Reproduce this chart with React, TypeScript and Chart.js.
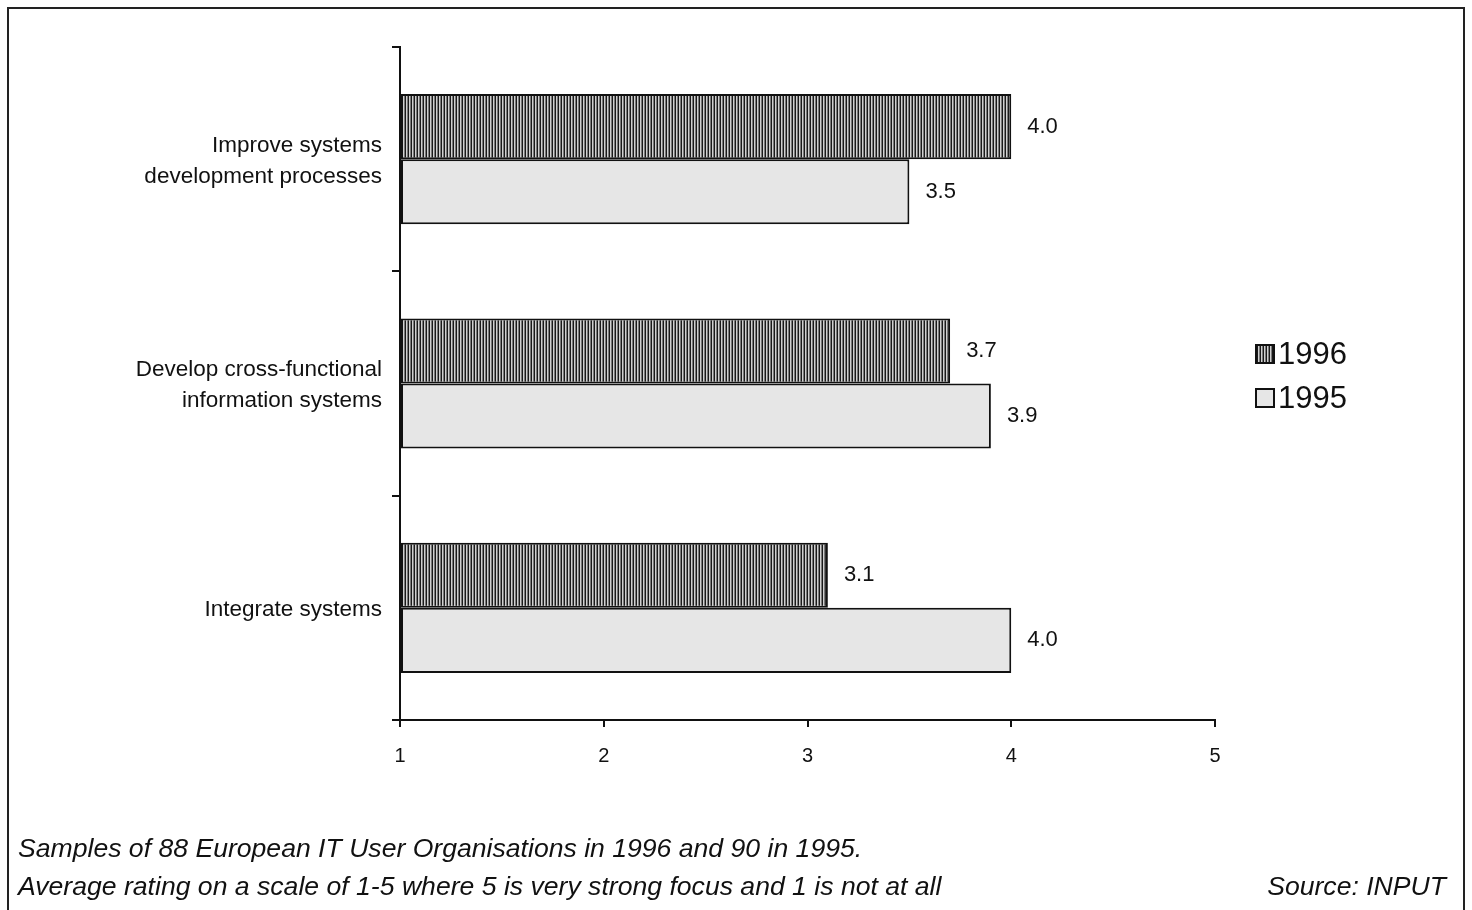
import React, { useEffect, useRef } from "react";
import { Chart, registerables } from "chart.js";

Chart.register(...registerables);

const categories: string[][] = [
  ["Improve systems", "development processes"],
  ["Develop cross-functional", "information systems"],
  ["Integrate systems"],
];
const seriesNames = ["1996", "1995"];
const values1996 = [4.0, 3.7, 3.1];
const values1995 = [3.5, 3.9, 4.0];
const xTicks = [1, 2, 3, 4, 5];

const FONT = "'Liberation Sans', Arial, Helvetica, sans-serif";

function makeStripePattern(): CanvasPattern | string {
  const c = document.createElement("canvas");
  c.width = 3;
  c.height = 4;
  const g = c.getContext("2d");
  if (!g) return "#777";
  g.fillStyle = "#d0d0d0";
  g.fillRect(0, 0, 3, 4);
  g.fillStyle = "#1a1a1a";
  g.fillRect(0, 0, 1, 4);
  g.fillStyle = "#7a7a7a";
  g.fillRect(2, 0, 1, 4);
  const p = g.createPattern(c, "repeat");
  return p || "#777";
}

export default function App() {
  const ref = useRef<HTMLCanvasElement>(null);

  useEffect(() => {
    if (!ref.current) return;
    const stripe = makeStripePattern();
    const light = "#e6e6e6";

    const valueLabels = {
      id: "valueLabels",
      afterDatasetsDraw(chart: any) {
        const ctx = chart.ctx;
        ctx.save();
        ctx.font = `22px ${FONT}`;
        ctx.fillStyle = "#111";
        ctx.textBaseline = "middle";
        ctx.textAlign = "left";
        chart.data.datasets.forEach((ds: any, di: number) => {
          const meta = chart.getDatasetMeta(di);
          meta.data.forEach((bar: any, i: number) => {
            ctx.fillText(Number(ds.data[i]).toFixed(1), bar.x + 16, bar.y);
          });
        });
        ctx.restore();
      },
    };

    const customLegend = {
      id: "customLegend",
      afterDraw(chart: any) {
        const ctx = chart.ctx;
        ctx.save();
        const x = 1256;
        const ys = [354, 398];
        chart.data.datasets.forEach((ds: any, i: number) => {
          const y = ys[i];
          ctx.fillStyle = ds.backgroundColor;
          ctx.fillRect(x, y - 9, 18, 18);
          ctx.strokeStyle = "#111";
          ctx.lineWidth = 2;
          ctx.strokeRect(x, y - 9, 18, 18);
          ctx.fillStyle = "#111";
          ctx.font = `31px ${FONT}`;
          ctx.textBaseline = "middle";
          ctx.textAlign = "left";
          ctx.fillText(ds.label, x + 22, y + 1);
        });
        ctx.restore();
      },
    };

    const chart = new Chart(ref.current, {
      type: "bar",
      data: {
        labels: categories,
        datasets: [
          {
            label: seriesNames[0],
            data: values1996,
            backgroundColor: stripe as any,
            borderColor: "#111",
            borderWidth: 2,
            borderSkipped: false,
            base: 1,
            categoryPercentage: 0.58,
            barPercentage: 1.0,
          } as any,
          {
            label: seriesNames[1],
            data: values1995,
            backgroundColor: light,
            borderColor: "#111",
            borderWidth: 2,
            borderSkipped: false,
            base: 1,
            categoryPercentage: 0.58,
            barPercentage: 1.0,
          } as any,
        ],
      },
      options: {
        indexAxis: "y",
        responsive: false,
        animation: false,
        layout: { padding: { top: 47, right: 257, bottom: 0, left: 0 } },
        plugins: {
          legend: { display: false },
          tooltip: { enabled: false },
          title: { display: false },
        },
        scales: {
          x: {
            type: "linear",
            min: 1,
            max: 5,
            afterBuildTicks: (scale: any) => {
              scale.ticks = xTicks.map((v) => ({ value: v }));
            },
            afterFit: (scale: any) => {
              scale.height = 190;
            },
            grid: {
              drawOnChartArea: false,
              drawTicks: true,
              tickLength: 7,
              color: "#111",
              lineWidth: 2,
            },
            border: { display: true, color: "#111", width: 2 },
            ticks: {
              color: "#111",
              padding: 17,
              font: { family: FONT, size: 20 },
              callback: (v: any) => String(v),
            },
          },
          y: {
            type: "category",
            afterFit: (scale: any) => {
              scale.width = 400;
            },
            grid: {
              drawOnChartArea: false,
              drawTicks: true,
              tickLength: 8,
              color: "#111",
              lineWidth: 2,
              offset: true,
            },
            border: { display: true, color: "#111", width: 2 },
            ticks: {
              color: "#111",
              padding: 10,
              labelOffset: 2,
              font: { family: FONT, size: 22.5, lineHeight: 1.38 },
            },
          },
        },
      },
      plugins: [valueLabels, customLegend],
    } as any);

    return () => chart.destroy();
  }, []);

  const noteStyle: React.CSSProperties = {
    position: "absolute",
    fontFamily: FONT,
    fontStyle: "italic",
    fontSize: 26.6,
    color: "#111",
    whiteSpace: "nowrap",
    lineHeight: "30px",
  };

  return (
    <div
      style={{
        position: "fixed",
        left: 0,
        top: 0,
        width: 1472,
        height: 910,
        background: "#fff",
        overflow: "hidden",
      }}
    >
      <div
        style={{
          position: "absolute",
          left: 7,
          top: 7,
          width: 1458,
          height: 920,
          border: "2px solid #222",
          boxSizing: "border-box",
        }}
      />
      <canvas
        ref={ref}
        width={1472}
        height={910}
        style={{ position: "absolute", left: 0, top: 0, width: 1472, height: 910 }}
      />
      <div style={{ ...noteStyle, left: 18, top: 833 }}>
        Samples of 88 European IT User Organisations in 1996 and 90 in 1995.
      </div>
      <div style={{ ...noteStyle, left: 18, top: 871 }}>
        Average rating on a scale of 1-5 where 5 is very strong focus and 1 is not at all
      </div>
      <div style={{ ...noteStyle, right: 26, top: 871 }}>Source: INPUT</div>
    </div>
  );
}
